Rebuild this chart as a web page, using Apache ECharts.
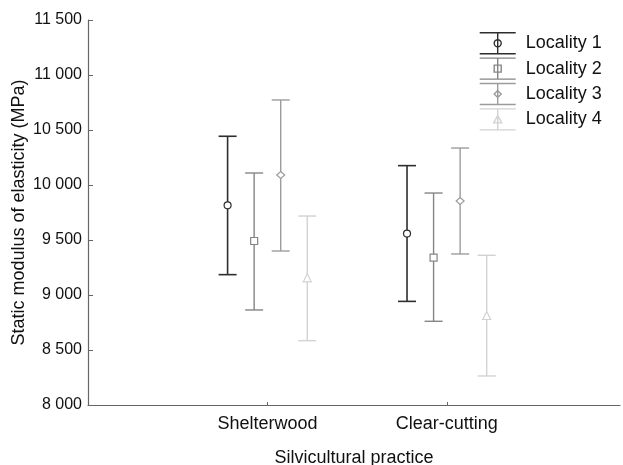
<!DOCTYPE html>
<html>
<head>
<meta charset="utf-8">
<script src="https://cdn.jsdelivr.net/npm/echarts@6/dist/echarts.min.js"></script>
<style>
  html, body { margin: 0; padding: 0; background: #fff; }
  #chart { width: 623px; height: 465px; }
</style>
</head>
<body>
<div id="chart"></div>
<script>
// data
const practices = ['Shelterwood', 'Clear-cutting']
const localities = ['Locality 1', 'Locality 2', 'Locality 3', 'Locality 4']
// one row per locality, one column per practice
const lows = [[9185, 8942], [8864, 8761], [9400, 9373], [8585, 8264]]
const means = [[9815, 9558], [9491, 9339], [10091, 9855], [9152, 8809]]
const highs = [[10443, 10176], [10109, 9927], [10773, 10336], [9718, 9361]]
const yTicks = [8000, 8500, 9000, 9500, 10000, 10500, 11000, 11500]

const colors = ['#2e2e2e', '#858585', '#9c9c9c', '#d2d2d2']
const shapes = ['circle', 'square', 'diamond', 'triangle']
const offsets = [-0.222, -0.074, 0.074, 0.222]

// legend glyphs: error bar with marker in the middle
const markerPath = {
  circle: 'M21.5,10.5 A3.5,3.5 0 1 1 14.5,10.5 A3.5,3.5 0 1 1 21.5,10.5 Z',
  square: 'M14.5,7 H21.5 V14 H14.5 Z',
  diamond: 'M18,7 L21.5,10.5 L18,14 L14.5,10.5 Z',
  triangle: 'M18,6.5 L22,14 L14,14 Z'
}
function legendIcon(shape) {
  return 'path://M0,0 H36 M18,0 V21 M0,21 H36 ' + markerPath[shape]
}

function fmt(v) {
  return String(v).replace(/\B(?=(\d{3})+(?!\d))/g, ' ')
}

function markerShape(shape, x, y, color) {
  const style = { fill: '#fff', stroke: color, lineWidth: 1.2 }
  if (shape === 'circle') {
    return { type: 'circle', shape: { cx: x, cy: y, r: 3.5 }, style }
  }
  if (shape === 'square') {
    return { type: 'rect', shape: { x: x - 3.5, y: y - 3.5, width: 7, height: 7 }, style }
  }
  if (shape === 'diamond') {
    return { type: 'polygon', shape: { points: [[x, y - 3.5], [x + 4, y], [x, y + 3.5], [x - 4, y]] }, style }
  }
  return { type: 'polygon', shape: { points: [[x, y - 4.5], [x + 4, y + 3.5], [x - 4, y + 3.5]] }, style }
}

const series = localities.map(function(name, k) {
  const data = practices.map(function(p, i) {
    return [i + 1, lows[k][i], means[k][i], highs[k][i]]
  })
  return {
    name: name,
    type: 'custom',
    itemStyle: { color: colors[k] },
    data: data,
    encode: { x: 0, y: [1, 2, 3] },
    renderItem: function(params, api) {
      const xv = api.value(0) + offsets[k]
      const lo = api.coord([xv, api.value(1)])
      const mid = api.coord([xv, api.value(2)])
      const hi = api.coord([xv, api.value(3)])
      const cap = 9
      const ls = { stroke: colors[k], lineWidth: k === 0 ? 1.6 : 1.4 }
      return {
        type: 'group',
        children: [
          { type: 'line', shape: { x1: hi[0], y1: hi[1], x2: lo[0], y2: lo[1] }, style: ls },
          { type: 'line', shape: { x1: hi[0] - cap, y1: hi[1], x2: hi[0] + cap, y2: hi[1] }, style: ls },
          { type: 'line', shape: { x1: lo[0] - cap, y1: lo[1], x2: lo[0] + cap, y2: lo[1] }, style: ls },
          markerShape(shapes[k], mid[0], mid[1], colors[k])
        ]
      }
    }
  }
})

const chart = echarts.init(document.getElementById('chart'))
chart.setOption({
  animation: false,
  textStyle: { fontFamily: 'Liberation Sans, Arial, sans-serif' },
  grid: { left: 88, right: 3, top: 20, bottom: 60, outerBoundsMode: 'none' },
  legend: {
    orient: 'vertical',
    left: 479,
    top: 32,
    padding: 0,
    itemWidth: 36,
    itemHeight: 21,
    itemGap: 3,
    textStyle: { fontSize: 18, color: '#111', lineHeight: 21, padding: [0, 0, 0, 5] },
    data: localities.map(function(name, k) {
      return {
        name: name,
        icon: legendIcon(shapes[k]),
        itemStyle: { color: 'transparent', borderColor: colors[k], borderWidth: 1.4 }
      }
    })
  },
  xAxis: {
    type: 'value',
    min: 0,
    max: 2.965,
    interval: 1,
    name: 'Silvicultural practice',
    nameLocation: 'middle',
    nameGap: 44,
    nameMoveOverlap: false,
    nameTextStyle: { fontSize: 18, color: '#111' },
    splitLine: { show: false },
    axisLine: { lineStyle: { color: '#666', width: 1.2 } },
    axisTick: { inside: true, length: 3, lineStyle: { color: '#666' } },
    axisLabel: {
      fontSize: 18,
      color: '#111',
      margin: 10,
      showMaxLabel: false,
      formatter: function(v) { return practices[v - 1] || '' }
    }
  },
  yAxis: {
    type: 'value',
    min: yTicks[0],
    max: yTicks[yTicks.length - 1],
    interval: 500,
    name: 'Static modulus of elasticity (MPa)',
    nameLocation: 'middle',
    nameGap: 60,
    nameMoveOverlap: false,
    nameTextStyle: { fontSize: 18, color: '#111' },
    splitLine: { show: false },
    axisLine: { show: true, lineStyle: { color: '#666', width: 1.2 } },
    axisTick: { show: true, inside: true, length: 5, lineStyle: { color: '#666' } },
    axisLabel: { fontSize: 16, color: '#111', margin: 6, formatter: fmt }
  },
  series: series
})
</script>
</body>
</html>
